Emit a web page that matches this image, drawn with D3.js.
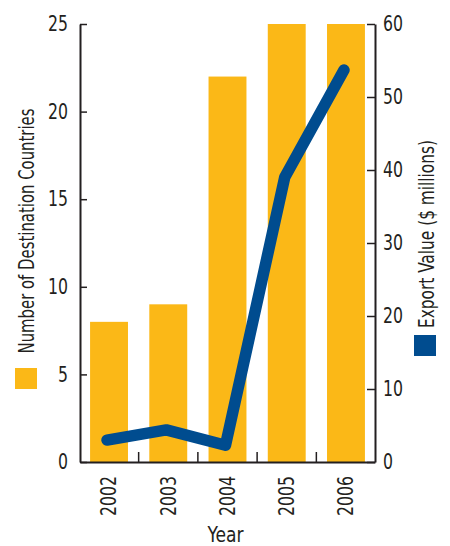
<!DOCTYPE html>
<meta charset="utf-8">
<head>
<style>
  body { margin: 0; background: #fff; }
  text { font-family: "DejaVu Sans", sans-serif; font-stretch: condensed; fill: #231f20; }
</style>
</head>
<body>
<svg width="450" height="546"></svg>

<script src="https://d3js.org/d3.v7.min.js"></script>
<script>
var years = ["2002", "2003", "2004", "2005", "2006"];
var countries = [8, 9, 22, 25, 25];
var exportValue = [3, 4.4, 2.3, 39, 53.7];
var leftTicks = [0, 5, 10, 15, 20, 25];
var rightTicks = [0, 10, 20, 30, 40, 50, 60];

var data = years.map(function(y, i) {
  return { year: y, n: countries[i], v: exportValue[i] };
});

var svg = d3.select("svg"),
    margin = {top: 24, right: 75, bottom: 84, left: 80},
    width = +svg.attr("width") - margin.left - margin.right,
    height = +svg.attr("height") - margin.top - margin.bottom,
    g = svg.append("g").attr("transform", "translate(" + margin.left + "," + margin.top + ")");

var x = d3.scaleBand().domain(years).range([0, width]).paddingInner(0.36).paddingOuter(0.17),
    yL = d3.scaleLinear().domain([0, 25]).range([height, 0]),
    yR = d3.scaleLinear().domain([0, 60]).range([height, 0]);

// bars
g.selectAll(".bar")
    .data(data)
  .enter().append("rect")
    .attr("class", "bar")
    .attr("x", function(d) { return x(d.year); })
    .attr("width", x.bandwidth())
    .attr("y", function(d) { return yL(d.n); })
    .attr("height", function(d) { return height - yL(d.n); })
    .attr("fill", "#fbb817");

// export line
var line = d3.line()
    .x(function(d) { return x(d.year) + x.bandwidth() / 2 - 2; })
    .y(function(d) { return yR(d.v); });

g.append("path")
    .attr("d", line(data))
    .attr("fill", "none")
    .attr("stroke", "#004c8f")
    .attr("stroke-width", 11.5)
    .attr("stroke-linecap", "round")
    .attr("stroke-linejoin", "round");

// axes
function styleAxis(sel) {
  sel.select(".domain").attr("stroke", "#231f20").attr("stroke-width", 2);
  sel.selectAll(".tick line").attr("stroke", "#231f20").attr("stroke-width", 1.5);
  sel.selectAll("text").attr("font-size", 21).style("font-family", null).attr("fill", "#231f20")
      .attr("textLength", function() { return this.textContent.length * 10; })
      .attr("lengthAdjust", "spacingAndGlyphs");
}

var left = g.append("g")
    .call(d3.axisLeft(yL).tickValues(leftTicks).tickSizeInner(-7).tickSizeOuter(0).tickPadding(12));
styleAxis(left);

var right = g.append("g")
    .attr("transform", "translate(" + width + ",0)")
    .call(d3.axisRight(yR).tickValues(rightTicks).tickSizeInner(-8).tickSizeOuter(0).tickPadding(8));
styleAxis(right);

// ticks between bands on bottom axis
var bottom = g.append("g")
    .attr("transform", "translate(0," + height + ")")
    .call(d3.axisBottom(x).tickSize(0).tickPadding(12));
styleAxis(bottom);
bottom.selectAll(".tick text")
    .attr("transform", "rotate(-90)")
    .attr("text-anchor", "end")
    .attr("dx", "-14")
    .attr("dy", "0.35em")
    .attr("x", 0)
    .attr("y", 0);

g.selectAll(".sep")
    .data(years.slice(1))
  .enter().append("line")
    .attr("x1", function(d) { return x(d) - x.step() * x.paddingInner() / 2; })
    .attr("x2", function(d) { return x(d) - x.step() * x.paddingInner() / 2; })
    .attr("y1", height)
    .attr("y2", height - 10)
    .attr("stroke", "#231f20")
    .attr("stroke-width", 1.5);

// axis titles
svg.append("text")
    .attr("transform", "translate(34,231) rotate(-90)")
    .attr("text-anchor", "middle")
    .attr("font-size", 22)
    .attr("textLength", 245)
    .attr("lengthAdjust", "spacingAndGlyphs")
    .text("Number of Destination Countries");

svg.append("rect")
    .attr("x", 15).attr("y", 368).attr("width", 22).attr("height", 21)
    .attr("fill", "#fbb817");

svg.append("text")
    .attr("transform", "translate(434,234) rotate(-90)")
    .attr("text-anchor", "middle")
    .attr("font-size", 22)
    .attr("textLength", 188)
    .attr("lengthAdjust", "spacingAndGlyphs")
    .text("Export Value ($ millions)");

svg.append("rect")
    .attr("x", 414).attr("y", 335).attr("width", 22).attr("height", 21)
    .attr("fill", "#004c8f");

svg.append("text")
    .attr("x", margin.left + width / 2 - 2)
    .attr("y", 542)
    .attr("text-anchor", "middle")
    .attr("font-size", 22)
    .attr("textLength", 36)
    .attr("lengthAdjust", "spacingAndGlyphs")
    .text("Year");
</script>
</body>
